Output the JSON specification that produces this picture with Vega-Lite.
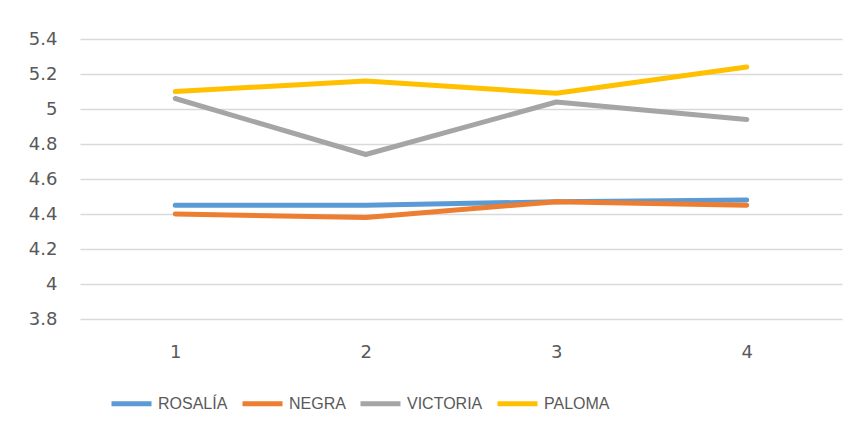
{
  "$schema": "https://vega.github.io/schema/vega-lite/v6.json",
  "autosize": {"type": "none"},
  "width": 762,
  "height": 280,
  "padding": {"left": 80, "top": 39, "right": 23, "bottom": 117},
  "background": "white",
  "config": {
    "font": "Liberation Sans",
    "view": {"stroke": null}
  },
  "data": {
    "values": [
      {"x": "1", "serie": "ROSALÍA", "v": 4.45},
      {"x": "2", "serie": "ROSALÍA", "v": 4.45},
      {"x": "3", "serie": "ROSALÍA", "v": 4.47},
      {"x": "4", "serie": "ROSALÍA", "v": 4.48},
      {"x": "1", "serie": "NEGRA", "v": 4.40},
      {"x": "2", "serie": "NEGRA", "v": 4.38},
      {"x": "3", "serie": "NEGRA", "v": 4.47},
      {"x": "4", "serie": "NEGRA", "v": 4.45},
      {"x": "1", "serie": "VICTORIA", "v": 5.06},
      {"x": "2", "serie": "VICTORIA", "v": 4.74},
      {"x": "3", "serie": "VICTORIA", "v": 5.04},
      {"x": "4", "serie": "VICTORIA", "v": 4.94},
      {"x": "1", "serie": "PALOMA", "v": 5.10},
      {"x": "2", "serie": "PALOMA", "v": 5.16},
      {"x": "3", "serie": "PALOMA", "v": 5.09},
      {"x": "4", "serie": "PALOMA", "v": 5.24}
    ]
  },
  "mark": {"type": "line", "strokeWidth": 5, "strokeCap": "round", "strokeJoin": "round"},
  "encoding": {
    "x": {
      "field": "x", "type": "ordinal", "title": null,
      "scale": {"type": "point", "padding": 0.5},
      "axis": {"labelAngle": 0, "domain": false, "ticks": false, "grid": false, "labelFont": "DejaVu Sans", "labelFontSize": 18, "labelColor": "#595959", "labelPadding": 24}
    },
    "y": {
      "field": "v", "type": "quantitative", "title": null,
      "scale": {"domain": [3.8, 5.4], "nice": false, "zero": false},
      "axis": {"values": [3.8, 4, 4.2, 4.4, 4.6, 4.8, 5, 5.2, 5.4], "format": "~g", "domain": false, "ticks": false, "gridColor": "#D9D9D9", "gridWidth": 1.3, "labelFont": "DejaVu Sans", "labelFontSize": 18, "labelColor": "#595959", "labelPadding": 23}
    },
    "color": {
      "field": "serie", "type": "nominal", "title": null,
      "sort": ["ROSALÍA", "NEGRA", "VICTORIA", "PALOMA"],
      "scale": {"domain": ["ROSALÍA", "NEGRA", "VICTORIA", "PALOMA"], "range": ["#5B9BD5", "#ED7D31", "#A5A5A5", "#FFC000"]},
      "legend": {
        "orient": "none", "direction": "horizontal", "legendX": 29, "legendY": 342,
        "symbolType": "stroke", "symbolSize": 1600, "symbolStrokeWidth": 5,
        "labelFontSize": 16, "labelColor": "#595959", "labelOffset": 4, "columnPadding": 4
      }
    }
  }
}
